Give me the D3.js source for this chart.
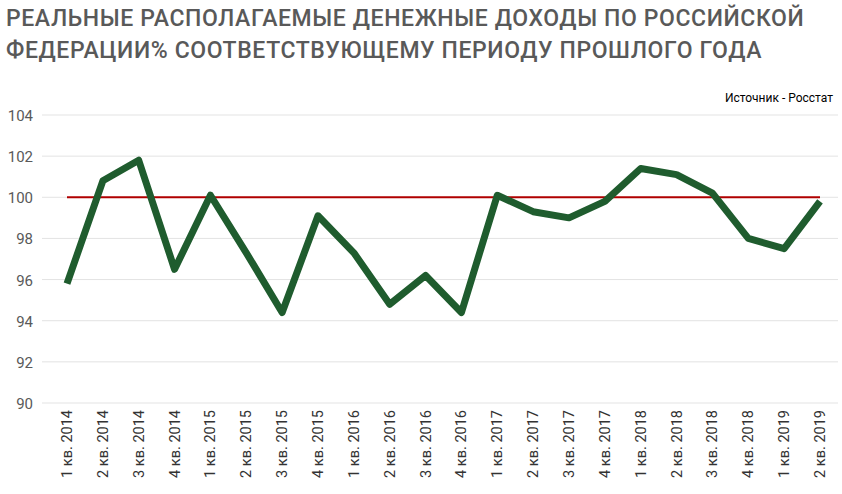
<!DOCTYPE html><html><head><meta charset="utf-8"><script src="https://cdn.jsdelivr.net/npm/d3@7"></script>
<style>body{margin:0;background:#fff}</style></head><body><svg id="c" width="842" height="494"></svg>
<script>
const categories=["1 кв. 2014","2 кв. 2014","3 кв. 2014","4 кв. 2014","1 кв. 2015","2 кв. 2015","3 кв. 2015","4 кв. 2015","1 кв. 2016","2 кв. 2016","3 кв. 2016","4 кв. 2016","1 кв. 2017","2 кв. 2017","3 кв. 2017","4 кв. 2017","1 кв. 2018","2 кв. 2018","3 кв. 2018","4 кв. 2018","1 кв. 2019","2 кв. 2019"];
const values=[95.8,100.8,101.8,96.5,100.1,97.3,94.4,99.1,97.3,94.8,96.2,94.4,100.1,99.3,99.0,99.8,101.4,101.1,100.2,98.0,97.5,99.8];
const yTicks=[90,92,94,96,98,100,102,104];
const baseline=100;
const svg=d3.select("#c");
const x=d3.scalePoint().domain(categories).range([67,820]);
const y=d3.scaleLinear().domain([90,104]).range([403,115]);
svg.append("text").attr("x",6).attr("y",26).attr("font-family","Roboto").attr("font-weight",500).attr("font-size",23).attr("fill","#595959").attr("letter-spacing","0.6").text("РЕАЛЬНЫЕ РАСПОЛАГАЕМЫЕ ДЕНЕЖНЫЕ ДОХОДЫ ПО РОССИЙСКОЙ");
svg.append("text").attr("x",6).attr("y",58).attr("font-family","Roboto").attr("font-weight",500).attr("font-size",23).attr("fill","#595959").attr("letter-spacing","0.6").text("ФЕДЕРАЦИИ% СООТВЕТСТВУЮЩЕМУ ПЕРИОДУ ПРОШЛОГО ГОДА");
svg.append("text").attr("x",833).attr("y",102).attr("text-anchor","end").attr("font-family","Roboto").attr("font-size",12).attr("fill","#000").text("Источник - Росстат");
svg.append("g").selectAll("line").data(yTicks).join("line").attr("x1",42).attr("x2",838).attr("y1",d=>y(d)).attr("y2",d=>y(d)).attr("stroke","#e3e3e3");
svg.append("g").selectAll("text").data(yTicks).join("text").attr("x",33).attr("y",d=>y(d)+6).attr("text-anchor","end").attr("font-family","Roboto").attr("font-size",15).attr("fill","#595959").text(d=>d);
svg.append("g").selectAll("text").data(categories).join("text").attr("transform",d=>`translate(${x(d)+5},410) rotate(-90)`).attr("text-anchor","end").attr("font-family","Roboto").attr("font-size",14.5).attr("fill","#333").text(d=>d);
svg.append("line").attr("x1",x(categories[0])).attr("x2",x(categories[categories.length-1])).attr("y1",y(baseline)).attr("y2",y(baseline)).attr("stroke","#b00000").attr("stroke-width",2);
svg.append("path").datum(values).attr("d",d3.line().x((d,i)=>x(categories[i])).y(d=>y(d))).attr("fill","none").attr("stroke","#1f5c2e").attr("stroke-width",7).attr("stroke-linejoin","round");
</script></body></html>
